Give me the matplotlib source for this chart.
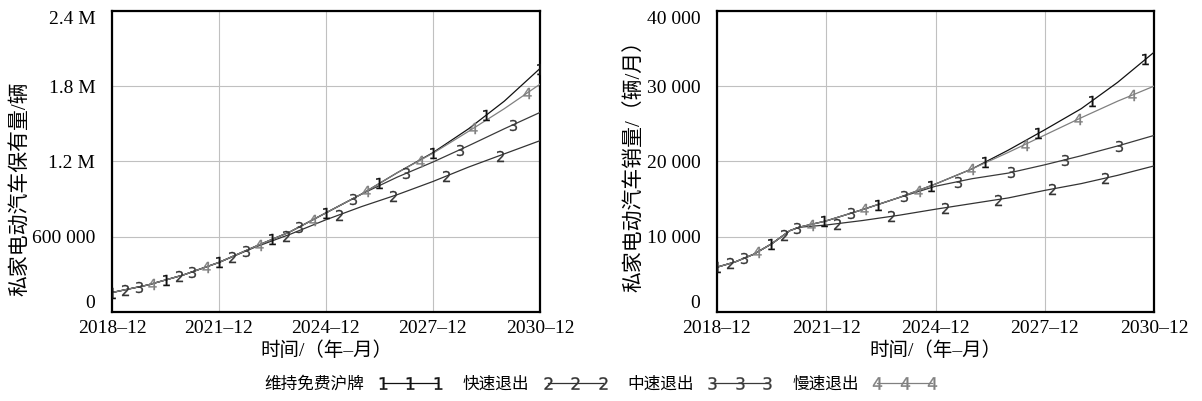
import numpy as np
import matplotlib
matplotlib.use("Agg")
import matplotlib.pyplot as plt

plt.rcParams['font.family'] = ['Liberation Serif', 'Noto Sans CJK SC']

# years since 2018-12
years_stock = [0, 1, 2, 3, 4, 5, 6, 7, 8, 9, 10, 11, 12]
stock_1 = [155, 215, 295, 395, 520, 640, 790, 940, 1110, 1270, 1460, 1680, 1940]
stock_2 = [155, 215, 295, 395, 515, 620, 735, 840, 935, 1040, 1155, 1260, 1365]
stock_3 = [155, 215, 295, 395, 520, 640, 790, 940, 1075, 1195, 1325, 1460, 1590]
stock_4 = [155, 215, 295, 395, 520, 640, 790, 940, 1110, 1265, 1440, 1620, 1815]

years_sales = [0, 0.5, 1, 1.5, 2, 2.25, 3, 4, 5, 6, 7, 8, 9, 10, 11, 12]
sales_1 = [5950, 6650, 7650, 9050, 10800, 11250, 12100, 13600, 15200, 17000, 19000, 21500, 24200, 27000, 30500, 34500]
sales_2 = [5950, 6650, 7650, 9050, 10800, 11250, 11550, 12150, 12850, 13650, 14400, 15150, 16150, 17050, 18150, 19400]
sales_3 = [5950, 6650, 7650, 9050, 10800, 11250, 12100, 13600, 15200, 16700, 17700, 18450, 19550, 20750, 22050, 23450]
sales_4 = [5950, 6650, 7650, 9050, 10800, 11250, 12100, 13600, 15200, 17000, 19000, 21200, 23500, 25800, 28000, 30000]

scenarios = ['维持免费沪牌', '快速退出', '中速退出', '慢速退出']
colors = ['#111111', '#333333', '#3a3a3a', '#808080']

x_ticks = [0, 3, 6, 9, 12]
x_labels = ['2018–12', '2021–12', '2024–12', '2027–12', '2030–12']
stock_ticks = [0, 600000, 1200000, 1800000, 2400000]
stock_labels = ['0', '600 000', '1.2 M', '1.8 M', '2.4 M']
sales_ticks = [0, 10000, 20000, 30000, 40000]
sales_labels = ['0', '10 000', '20 000', '30 000', '40 000']

fig = plt.figure(figsize=(12.02, 4.01), dpi=100)
ax1 = fig.add_axes([0.0932, 0.222, 0.356, 0.751])
ax2 = fig.add_axes([0.5965, 0.222, 0.3636, 0.751])


def draw(ax, x, series, period, ticks, labels, ylabel, ylab_pos):
    x = np.asarray(x, dtype=float)
    for i, y in enumerate(series):
        y = np.asarray(y, dtype=float)
        ax.plot(x, y, color=colors[i], lw=0.9, zorder=3)
        tm = np.arange(i * period / 4, x[-1] + 0.01, period)
        ax.plot(tm, np.interp(tm, x, y), ls='none', marker='$%d$' % (i + 1),
                ms=8, mew=0.2, color=colors[i], zorder=4)
    ax.set_xlim(0, 12)
    ax.set_ylim(ticks[0], ticks[-1])
    ax.set_xticks(x_ticks, x_labels, fontsize=14)
    ax.set_yticks(ticks, labels, fontsize=14)
    ax.tick_params(length=0, pad=6)
    ax.tick_params(axis='y', pad=12)
    yl = ax.get_yticklabels()
    yl[0].set_va('bottom')
    yl[-1].set_va('top')
    ax.grid(color='#c0c0c0', lw=0.8)
    for s in ax.spines.values():
        s.set_linewidth(1.6)
    ax.set_xlabel('时间/（年–月）', fontsize=14, labelpad=3)
    ax.set_ylabel(ylabel, fontsize=15)
    ax.yaxis.set_label_coords(*ylab_pos)


draw(ax1, years_stock, [np.array(s) * 1000 for s in (stock_1, stock_2, stock_3, stock_4)],
     1.5, stock_ticks, stock_labels, '私家电动汽车保有量/辆', (-0.192, 0.41))
draw(ax2, years_sales, [sales_1, sales_2, sales_3, sales_4],
     1.47, sales_ticks, sales_labels, '私家电动汽车销量/（辆/月）', (-0.165, 0.5))

handles = [plt.Line2D([], [], color=colors[i], lw=0.9, marker='$%d$' % (i + 1),
                      ms=9, mew=0.2) for i in range(4)]
fig.legend(handles, scenarios, loc='center', bbox_to_anchor=(0.5, 0.04), ncol=4,
           frameon=False, markerfirst=False, numpoints=3, handlelength=3.9,
           handletextpad=0.8, columnspacing=1.2, prop={'size': 12})

fig.savefig('out.png', dpi=100)
